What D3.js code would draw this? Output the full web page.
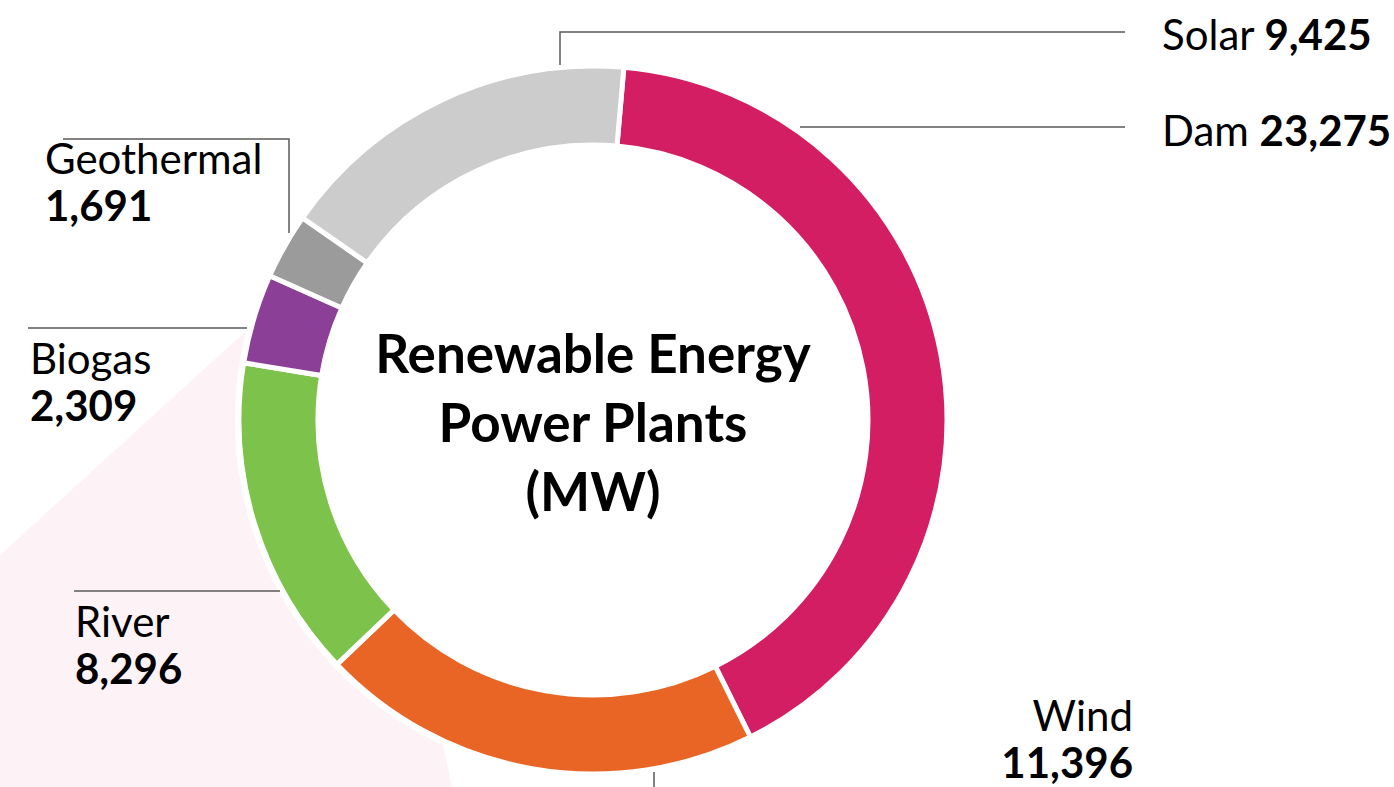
<!DOCTYPE html>
<html>
<head>
<meta charset="utf-8">
<script src="https://cdn.jsdelivr.net/npm/d3@7"></script>
<style>
  html, body { margin: 0; padding: 0; background: #fff; }
  svg { display: block; }
  text { font-family: Lato, "Noto Sans", sans-serif; fill: #000; }
</style>
</head>
<body>
<div class="container"></div>
<script>
// datos
const categories = ['Dam', 'Wind', 'River', 'Biogas', 'Geothermal', 'Solar'];
const capacities = [23275, 11396, 8296, 2309, 1691, 9425];
const titleLines = ['Renewable Energy', 'Power Plants', '(MW)'];

const WIDTH = 1394;
const HEIGHT = 787;
const CX = 593;
const CY = 420;
const OUTER = 354;
const INNER = 275;
const ROTATION = 5 * Math.PI / 180;

const sliceColors = ['#d41e63', '#e86526', '#7dc34b', '#8b3f96', '#9b9b9b', '#cccccc'];

// posiciones de etiquetas y lineas guia
const labelLayout = {
  Solar:      { x: 1162, y: 50,  anchor: 'start', inline: true,  line: [[560, 65], [560, 32], [1125, 32]] },
  Dam:        { x: 1162, y: 146, anchor: 'start', inline: true,  line: [[800, 127], [1125, 127]] },
  Geothermal: { x: 45,   y: 174, anchor: 'start', inline: false, line: [[63, 139], [289, 139], [289, 233]] },
  Biogas:     { x: 30,   y: 374, anchor: 'start', inline: false, line: [[28, 328], [247, 328]] },
  River:      { x: 75,   y: 637, anchor: 'start', inline: false, line: [[74, 591], [280, 591]] },
  Wind:       { x: 1133, y: 731, anchor: 'end',   inline: false, line: [[654, 772], [654, 800]] }
};

const fmt = d3.format(',');

const svg = d3.select('.container')
  .append('svg')
    .attr('width', WIDTH)
    .attr('height', HEIGHT);

// fondo rosado (callout)
svg.append('polygon')
  .attr('points', [[247, 330], [0, 555], [0, 787], [452, 787], [413, 600]].map(p => p.join(',')).join(' '))
  .attr('fill', '#fdf3f6');

const chart = svg.append('g')
  .attr('transform', `translate(${CX}, ${CY})`);

chart.append('circle')
  .attr('r', OUTER + 4)
  .attr('fill', '#fff');

const pie = d3.pie()
  .sort(null)
  .value(d => d.value)
  .startAngle(ROTATION)
  .endAngle(2 * Math.PI + ROTATION);

const arc = d3.arc()
  .innerRadius(INNER)
  .outerRadius(OUTER);

const data = categories.map((c, i) => ({ name: c, value: capacities[i], color: sliceColors[i] }));

chart.selectAll('path.slice')
  .data(pie(data))
  .enter().append('path')
    .attr('class', 'slice')
    .attr('d', arc)
    .attr('fill', d => d.data.color)
    .attr('stroke', '#fff')
    .attr('stroke-width', 5)
    .attr('stroke-linejoin', 'miter');

// titulo al centro
const title = chart.append('text')
  .attr('text-anchor', 'middle')
  .style('font-weight', 'bold')
  .style('font-size', '53px');

titleLines.forEach((t, i) => {
  title.append('tspan')
    .attr('x', 0)
    .attr('y', -47 + i * 69)
    .text(t);
});

// lineas guia
const lineGen = d3.line();
svg.selectAll('path.leader')
  .data(data)
  .enter().append('path')
    .attr('class', 'leader')
    .attr('d', d => lineGen(labelLayout[d.name].line))
    .attr('fill', 'none')
    .attr('stroke', '#595959')
    .attr('stroke-width', 1.5);

// etiquetas
const labels = svg.selectAll('text.label')
  .data(data)
  .enter().append('text')
    .attr('class', 'label')
    .attr('text-anchor', d => labelLayout[d.name].anchor)
    .style('font-size', '42px');

labels.each(function(d) {
  const L = labelLayout[d.name];
  const t = d3.select(this);
  if (L.inline) {
    t.append('tspan').attr('x', L.x).attr('y', L.y).text(d.name + ' ');
    t.append('tspan').style('font-weight', 'bold').text(fmt(d.value));
  } else {
    t.append('tspan').attr('x', L.x).attr('y', L.y).text(d.name);
    t.append('tspan').attr('x', L.x).attr('y', L.y + 47)
      .style('font-weight', 'bold').text(fmt(d.value));
  }
});
</script>
</body>
</html>
